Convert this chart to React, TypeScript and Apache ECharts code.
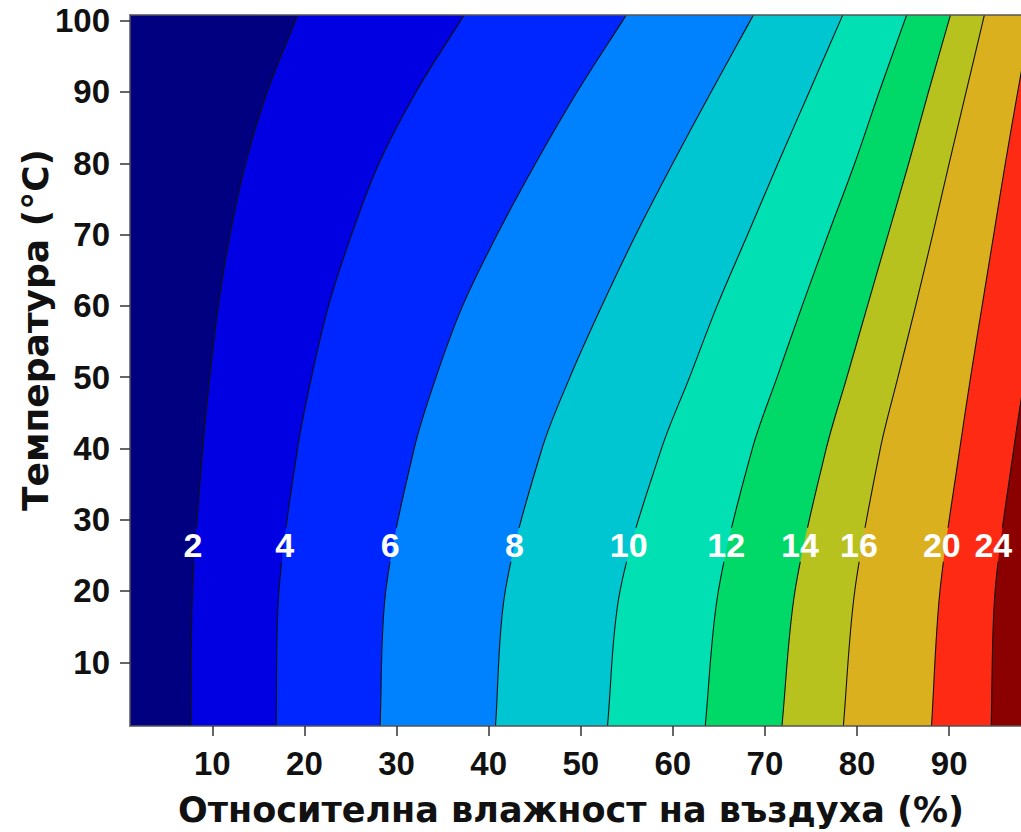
import React, { useEffect, useRef } from "react";
import * as echarts from "echarts";

// Temperature rows (°C) at which the contour positions were read
const rowTemps = [1, 20, 40, 50, 60, 70, 80, 90, 99.8];
// Contour levels (equilibrium moisture content, %)
const contourLevels = [2, 4, 6, 8, 10, 12, 14, 16, 20, 24];
// Relative humidity (%) of each contour at the rows above
const contour2 = [7.67, 7.85, 8.96, 9.72, 10.65, 11.92, 13.61, 15.94, 18.96];
const contour4 = [16.92, 17.23, 19.26, 20.77, 22.62, 25.12, 28.1, 32.12, 36.85];
const contour6 = [28.21, 28.83, 31.92, 34.29, 37.17, 40.92, 45.1, 49.6, 54.45];
const contour8 = [40.74, 41.8, 45.8, 48.83, 52.29, 55.99, 59.99, 64.15, 68.32];
const contour10 = [52.9, 54.26, 58.77, 61.82, 64.8, 68.12, 71.42, 74.8, 78.11];
const contour12 = [63.51, 64.94, 68.64, 71.32, 74.04, 76.86, 79.75, 82.4, 85.11];
const contour14 = [71.84, 73.26, 76.66, 78.9, 81.13, 83.37, 85.61, 87.75, 89.92];
const contour16 = [78.51, 79.75, 82.53, 84.44, 86.36, 88.21, 90.0, 91.84, 93.64];
const contour20 = [88.08, 89.0, 91.16, 92.33, 93.58, 94.84, 96.1, 97.44, 98.79];
const contour24 = [94.56, 94.99, 97.02, 98.2, 99.44, 100.75, 102.05, 103.35, 104.77];
const contourX = [contour2, contour4, contour6, contour8, contour10, contour12, contour14, contour16, contour20, contour24];

// Band colours: below first level, then above each level
const bandColors = ["#000080", "#0000e2", "#0026ff", "#0082ff", "#00c6d2", "#00e0b2", "#00d868", "#b8c21e", "#dab01e", "#ff2a14", "#8b0000"];

// Contour label positions
const labelX = [7.9, 17.85, 29.3, 42.8, 55.2, 65.8, 73.8, 80.2, 89.2, 94.8];
const labelTemp = 26.5;

const xTicks = [10, 20, 30, 40, 50, 60, 70, 80, 90];
const yTicks = [10, 20, 30, 40, 50, 60, 70, 80, 90, 100];

const X_MIN = 1.06;
const X_MAX = 97.8;
const Y_MIN = 1.06;
const Y_MAX = 100.8;

export default function App() {
  const ref = useRef<HTMLDivElement>(null);
  useEffect(() => {
    if (!ref.current) return;
    const chart = echarts.init(ref.current, null, { renderer: "svg" });

    const renderContour = (params: any, api: any) => {
      const i = params.dataIndex;
      const xs = contourX[i];
      const n = rowTemps.length;
      const ext = 6;
      const pts = rowTemps.map((t, k) => api.coord([xs[k], t]));
      // continue the end segments straight outside the plot (clipped away)
      const bx = xs[0] - ((xs[1] - xs[0]) * ext) / (rowTemps[1] - rowTemps[0]);
      const tx = xs[n - 1] + ((xs[n - 1] - xs[n - 2]) * ext) / (rowTemps[n - 1] - rowTemps[n - 2]);
      const first = api.coord([bx, rowTemps[0] - ext]);
      const last = api.coord([tx, rowTemps[n - 1] + ext]);
      const farTop = api.coord([140, rowTemps[n - 1] + ext]);
      const farBottom = api.coord([140, rowTemps[0] - ext]);
      const linePts = [first, ...pts, last];

      const tl = api.coord([X_MIN, Y_MAX]);
      const br = api.coord([X_MAX, Y_MIN]);
      const gapY = api.coord([labelX[i], labelTemp])[1];
      const half = 17;
      const lineStyle = { fill: null, stroke: "#111", lineWidth: 1.1 };
      return {
        type: "group",
        children: [
          {
            type: "polygon",
            shape: { points: [first, ...pts, last, farTop, farBottom], smooth: 0.33 },
            style: { fill: bandColors[i + 1], stroke: null },
          },
          {
            type: "polyline",
            shape: { points: linePts, smooth: 0.33 },
            style: lineStyle,
            clipPath: {
              type: "rect",
              shape: { x: tl[0], y: tl[1], width: br[0] - tl[0], height: gapY - half - tl[1] },
            },
          },
          {
            type: "polyline",
            shape: { points: linePts, smooth: 0.33 },
            style: lineStyle,
            clipPath: {
              type: "rect",
              shape: { x: tl[0], y: gapY + half, width: br[0] - tl[0], height: br[1] - gapY - half },
            },
          },
        ],
      };
    };

    const renderLabel = (params: any, api: any) => {
      const p = api.coord([api.value(0), api.value(1)]);
      return {
        type: "text",
        x: p[0],
        y: p[1],
        style: {
          text: String(contourLevels[params.dataIndex]),
          fill: "#ffffff",
          fontSize: 34,
          fontWeight: "bold",
          fontFamily: "Liberation Sans, Arial, sans-serif",
          align: "center",
          verticalAlign: "middle",
        },
      };
    };

    const axisLabelStyle = {
      fontSize: 33,
      fontWeight: "bold" as const,
      fontFamily: "Liberation Sans, Arial, sans-serif",
      color: "#111",
    };

    chart.setOption({
      animation: false,
      grid: {
        left: 130,
        right: 0,
        top: 15,
        bottom: 106,
        show: true,
        backgroundColor: bandColors[0],
        borderWidth: 0,
      },
      xAxis: [
        {
          type: "value",
          min: X_MIN,
          max: X_MAX,
          position: "bottom",
          z: 10,
          axisLine: { show: true, lineStyle: { color: "#555", width: 1.5 } },
          axisTick: { show: true, length: 10, inside: false, customValues: xTicks, lineStyle: { color: "#333", width: 1.5 } },
          axisLabel: { ...axisLabelStyle, margin: 21, customValues: xTicks },
          splitLine: { show: false },
        },
        {
          type: "value",
          min: X_MIN,
          max: X_MAX,
          position: "top",
          z: 10,
          axisLine: { show: true, lineStyle: { color: "#555", width: 1.5 } },
          axisTick: { show: false },
          axisLabel: { show: false },
          splitLine: { show: false },
        },
      ],
      yAxis: {
        type: "value",
        min: Y_MIN,
        max: Y_MAX,
        z: 10,
        axisLine: { show: true, lineStyle: { color: "#555", width: 1.5 } },
        axisTick: { show: true, length: 10, customValues: yTicks, lineStyle: { color: "#333", width: 1.5 } },
        axisLabel: { ...axisLabelStyle, margin: 20, customValues: yTicks },
        splitLine: { show: false },
      },
      graphic: [
        {
          type: "text",
          x: 571,
          y: 810,
          style: {
            text: "Относителна влажност на въздуха (%)",
            fontSize: 35,
            fontWeight: "bold",
            fontFamily: "DejaVu Sans, Verdana, sans-serif",
            fill: "#111",
            align: "center",
            verticalAlign: "middle",
          },
        },
        {
          type: "text",
          x: 35,
          y: 330,
          rotation: Math.PI / 2,
          style: {
            text: "Температура (°C)",
            fontSize: 36,
            fontWeight: "bold",
            fontFamily: "DejaVu Sans, Verdana, sans-serif",
            fill: "#111",
            align: "center",
            verticalAlign: "middle",
          },
        },
      ],
      series: [
        {
          type: "custom",
          coordinateSystem: "cartesian2d",
          xAxisIndex: 0,
          clip: true,
          z: 2,
          silent: true,
          data: contourLevels.map((lv, i) => [contourX[i][0], lv]),
          renderItem: renderContour,
        },
        {
          type: "custom",
          coordinateSystem: "cartesian2d",
          xAxisIndex: 0,
          clip: false,
          z: 3,
          silent: true,
          data: labelX.map((x) => [x, labelTemp]),
          renderItem: renderLabel,
        },
      ],
    });
    return () => chart.dispose();
  }, []);
  return (
    <div
      ref={ref}
      style={{ position: "absolute", left: 0, top: 0, width: 1021, height: 832, background: "#fff" }}
    />
  );
}
